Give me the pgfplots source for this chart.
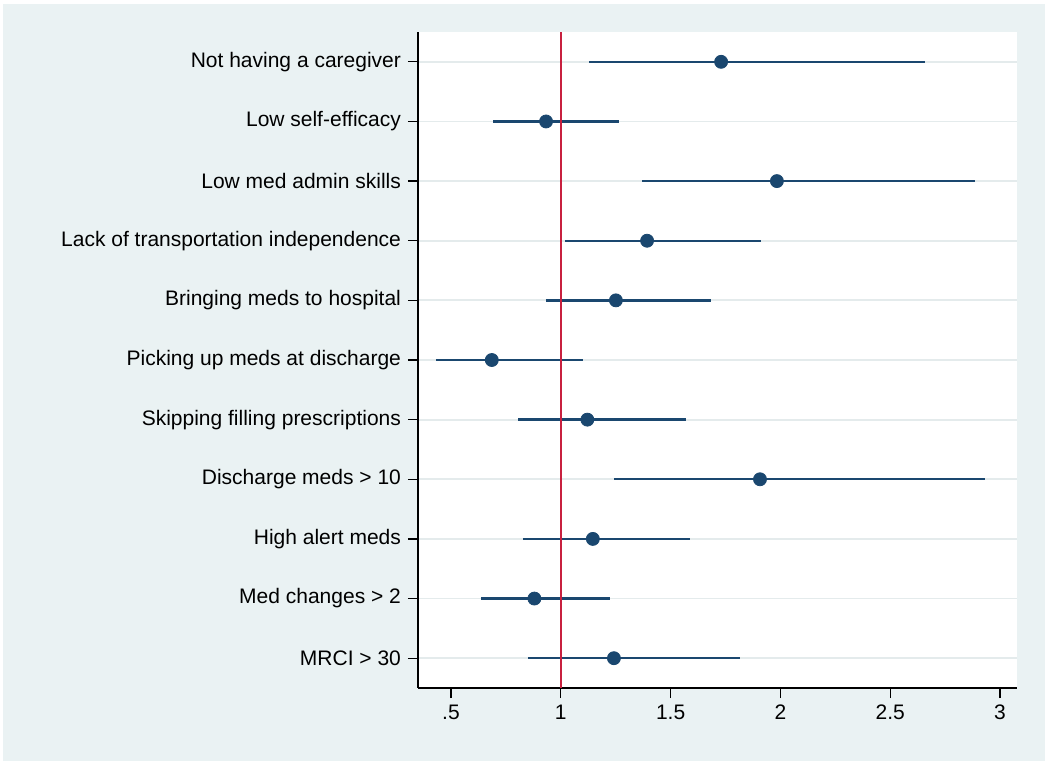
\documentclass[border=0pt]{standalone}
\usepackage{fontspec}
\setmainfont{Liberation Sans}
\usepackage{pgfplots}
\usepackage{pgfplotstable}
\pgfplotsset{compat=1.18}
\definecolor{stbg}{HTML}{EAF2F3}
\definecolor{stnavy}{HTML}{1A476F}
\definecolor{stred}{HTML}{C8203F}

% row, point estimate, lower and upper CI bound
\pgfplotstableread{
row est lo hi
1 1.730 1.127 2.660
2 0.933 0.692 1.265
3 1.984 1.368 2.884
4 1.393 1.018 1.911
5 1.251 0.933 1.685
6 0.686 0.430 1.101
7 1.121 0.805 1.568
8 1.907 1.242 2.931
9 1.146 0.830 1.590
10 0.880 0.637 1.223
11 1.242 0.850 1.816
}\ordata

\begin{document}
\begin{tikzpicture}[font=\fontsize{10.5}{12.5}\selectfont]
\fill[white] (-209pt,-39pt) rectangle (316pt,344pt);
\fill[stbg] (-207.5pt,-36.5pt) rectangle (313.5pt,342pt);
\begin{axis}[at={(0,0)}, anchor=south west, scale only axis,
  width=299.5pt, height=328pt,
  xmin=0.35, xmax=3.077, ymin=0.5, ymax=11.5, y dir=reverse,
  axis lines*=left, axis line style={line width=0.65pt, black},
  axis background/.style={fill=white},
  xtick={0.5,1,1.5,2,2.5,3}, xticklabels={.5,1,1.5,2,2.5,3},
  ytick={1,...,11},
  yticklabels={Not having a caregiver, Low self-efficacy, Low med admin skills,
    Lack of transportation independence, Bringing meds to hospital,
    Picking up meds at discharge, Skipping filling prescriptions,
    Discharge meds > 10, High alert meds, Med changes > 2, MRCI > 30},
  tick align=outside, major tick length=5pt,
  tick style={black, line width=0.65pt},
  ymajorgrids, grid style={stbg!90!gray!60!stbg, line width=0.9pt},
  /pgf/number format/assume math mode=true,
  every tick label/.append style={font=\fontsize{10.5}{12.5}\selectfont},
  clip=false]
\addplot[only marks, color=stnavy, mark=*, mark size=3.25pt,
  mark options={fill=stnavy, draw=stnavy},
  error bars/.cd, x dir=both, x explicit, error mark=none,
  error bar style={stnavy, line width=1.15pt}]
  table[x=est, y=row,
    x error plus expr=\thisrow{hi}-\thisrow{est},
    x error minus expr=\thisrow{est}-\thisrow{lo}] {\ordata};
\addplot[stred, line width=0.75pt] coordinates {(1,0.5) (1,11.5)};
\end{axis}
\end{tikzpicture}
\end{document}
